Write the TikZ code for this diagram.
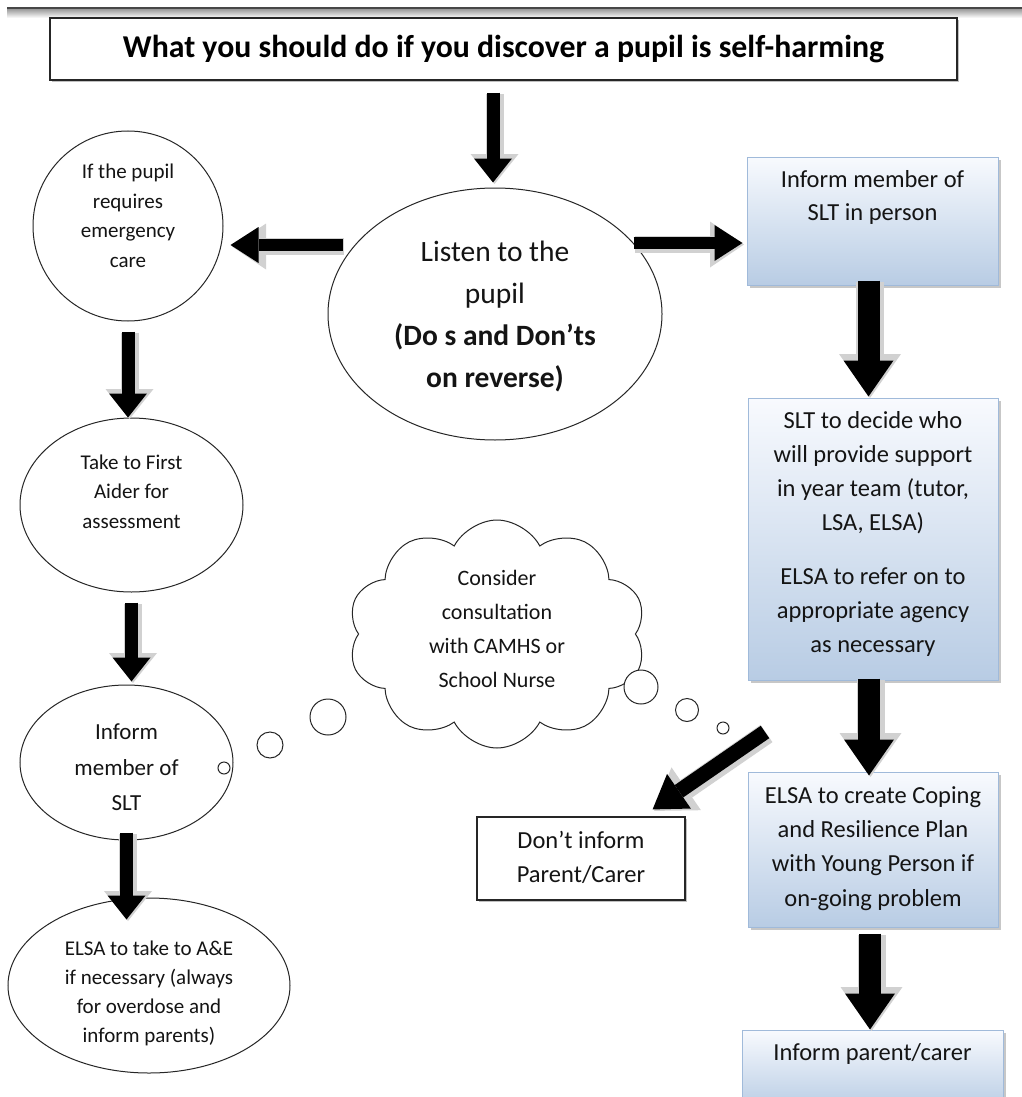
\documentclass[tikz,border=0pt]{standalone}
\usepackage{fontspec}
\setmainfont{Carlito}
\usetikzlibrary{shapes.geometric,shapes.symbols,arrows.meta,calc,shadows}
\definecolor{boxtop}{RGB}{248,250,254}
\definecolor{boxbot}{RGB}{184,204,228}
\definecolor{boxline}{RGB}{160,186,218}
\tikzset{
  ell/.style={ellipse, draw=black!85, line width=1pt, inner sep=0pt, fill=white},
  gbox/.style={rectangle, draw=boxline, line width=1pt, inner sep=0pt,
    drop shadow={shadow xshift=2.5pt, shadow yshift=-2.5pt, opacity=0.4, fill=black!55},
    path picture={\shade[top color=boxtop,bottom color=boxbot] (path picture bounding box.south west) rectangle (path picture bounding box.north east);}},
  wbox/.style={rectangle, draw=black!85, line width=1.2pt, fill=white, inner sep=0pt,
    drop shadow={shadow xshift=2pt, shadow yshift=-2pt, opacity=0.45, fill=black!55}},
  txt/.style={inner sep=0pt, align=center, text=black!92},
  bub/.style={draw=black!85, line width=1pt, fill=white},
  arrL/.style={black, line width=13pt, -{Triangle[width=38pt 0 0,length=24pt 0 0,line width=0pt]},
    preaction={draw=black!18, line width=18pt, -{Triangle[width=48pt 0 0,length=30pt 0 0,line width=0pt]}, transform canvas={shift={(1.5pt,-1.5pt)}}}},
  arrH/.style={black, line width=12pt, -{Triangle[width=36pt 0 0,length=28pt 0 0,line width=0pt]},
    preaction={draw=black!18, line width=17pt, -{Triangle[width=46pt 0 0,length=34pt 0 0,line width=0pt]}, transform canvas={shift={(1.5pt,-1.5pt)}}}},
  arrR/.style={black, line width=22pt, -{Triangle[width=50pt 0 0,length=36pt 0 0,line width=0pt]},
    preaction={draw=black!18, line width=28pt, -{Triangle[width=62pt 0 0,length=44pt 0 0,line width=0pt]}, transform canvas={shift={(1.5pt,-1.5pt)}}}},
  arrD/.style={black, line width=15pt, -{Triangle[width=42pt 0 0,length=32pt 0 0,line width=0pt]},
    preaction={draw=black!18, line width=21pt, -{Triangle[width=52pt 0 0,length=39pt 0 0,line width=0pt]}, transform canvas={shift={(1.5pt,-1.5pt)}}}},
}
\begin{document}
\begin{tikzpicture}[x=1pt,y=-1pt]
\useasboundingbox (0,0) rectangle (1022,1097);
% top rule
\fill[black!72] (7,7) rectangle (1022,10);
\shade[top color=black!35,bottom color=white] (7,10) rectangle (1022,18);

% title
\node[wbox, minimum width=907pt, minimum height=62pt, line width=1.3pt,
  font=\fontsize{31.8}{38}\selectfont\bfseries] (title) at (503.5,49)
  {What you should do if you discover a pupil is self-harming};

% ellipses / circles
\node[ell, minimum width=334pt, minimum height=252pt] (listen) at (495,314) {};
\node[ell, minimum width=190pt, minimum height=190pt] (c1) at (128,226) {};
\node[ell, minimum width=223pt, minimum height=174pt] (c2) at (131.5,505) {};
\node[ell, minimum width=213pt, minimum height=155pt] (c3) at (126.5,762.5) {};
\node[ell, minimum width=282pt, minimum height=175pt] (c4) at (149,985.5) {};

% cloud
\node[cloud, draw=black!85, line width=1pt, fill=white, cloud puffs=10, cloud puff arc=125,
  cloud ignores aspect, minimum width=298pt, minimum height=228pt, inner sep=0pt] (cloud) at (497,634) {};

% thought bubbles
\draw[bub] (224,768) circle[radius=6];
\draw[bub] (270,745) circle[radius=13];
\draw[bub] (328,717) circle[radius=18];
\draw[bub] (641,687) circle[radius=17];
\draw[bub] (687,710) circle[radius=11.5];
\draw[bub] (723,728) circle[radius=6];

% right boxes
\node[gbox, minimum width=251pt, minimum height=128pt] (box1) at (872.5,221) {};
\node[gbox, minimum width=250pt, minimum height=282pt] (box2) at (873,539) {};
\node[gbox, minimum width=250pt, minimum height=155pt] (box3) at (873,849.5) {};
\node[gbox, minimum width=261pt, minimum height=80pt] (box4) at (872.5,1070) {};
\node[wbox, minimum width=208pt, minimum height=83pt] (dont) at (581,858.5) {};

% texts
\node[txt, font=\fontsize{21}{29.5}\selectfont] (c1t) at (128,216) {If the pupil\\requires\\emergency\\care};
\node[txt, font=\fontsize{21}{29.5}\selectfont] (c2t) at (131.5,491.5) {Take to First\\Aider for\\assessment};
\node[txt, font=\fontsize{23}{35.5}\selectfont] (c3t) at (126.5,767.5) {Inform\\member of\\SLT};
\node[txt, font=\fontsize{21}{29}\selectfont] (c4t) at (149,993) {ELSA to take to A\&E\\if necessary (always\\for overdose and\\inform parents)};
\node[txt, font=\fontsize{29.5}{42}\selectfont] (listent) at (495,316) {Listen to the\\pupil\\\textbf{(Do s and Don’ts}\\\textbf{on reverse)}};
\node[txt, font=\fontsize{22}{34}\selectfont] (cloudt) at (497,629) {Consider\\consultation\\with CAMHS or\\School Nurse};
\node[txt, font=\fontsize{24.5}{33}\selectfont] (box1t) at (872.5,197.5) {Inform member of\\SLT in person};
\node[txt, font=\fontsize{24.5}{34}\selectfont] (box2t) at (873,533.5) {SLT to decide who\\will provide support\\in year team (tutor,\\LSA, ELSA)\\[20pt]ELSA to refer on to\\appropriate agency\\as necessary};
\node[txt, font=\fontsize{24.5}{34.3}\selectfont] (box3t) at (873,848.5) {ELSA to create Coping\\and Resilience Plan\\with Young Person if\\on-going problem};
\node[txt, font=\fontsize{24.5}{34}\selectfont] (box4t) at (872.5,1054) {Inform parent/carer};
\node[txt, font=\fontsize{24.5}{34}\selectfont] (dontt) at (581,857) {Don’t inform\\Parent/Carer};

% arrows
\draw[arrL] ($(title.south -| listen.north)+(-2,12)$) -- ($(listen.north)+(-2,-5)$);
\draw[arrH] ($(listen.west)+(15,-69)$) -- ($(c1.east)+(7,19)$);
\draw[arrH] ($(listen.east)+(-29,-71)$) -- ($(box1.west)+(-4,22)$);
\draw[arrL] ($(c1.south)+(0,10)$) -- (c2.north -| c1.south);
\draw[arrL] ($(c2.south)+(0,10)$) -- ($(c2.south |- c3.north)+(0,-3)$);
\draw[arrL] ($(c3.south)+(0,-8)$) -- ($(c3.south |- c4.north)+(0,22)$);
\draw[arrR] ($(box1.south)+(-4,-5)$) -- ($(box1.south |- box2.north)+(-4,-1)$);
\draw[arrR] ($(box2.south)+(-4,-2)$) -- ($(box2.south |- box3.north)+(-4,4)$);
\draw[arrR] ($(box3.south)+(-3,6)$) -- ($(box3.south |- box4.north)+(-3,0)$);
\coordinate (dstart) at (765,732);
\draw[arrD] (dstart) -- ($(dont.north east)+(-33,-7)$);
\end{tikzpicture}
\end{document}
